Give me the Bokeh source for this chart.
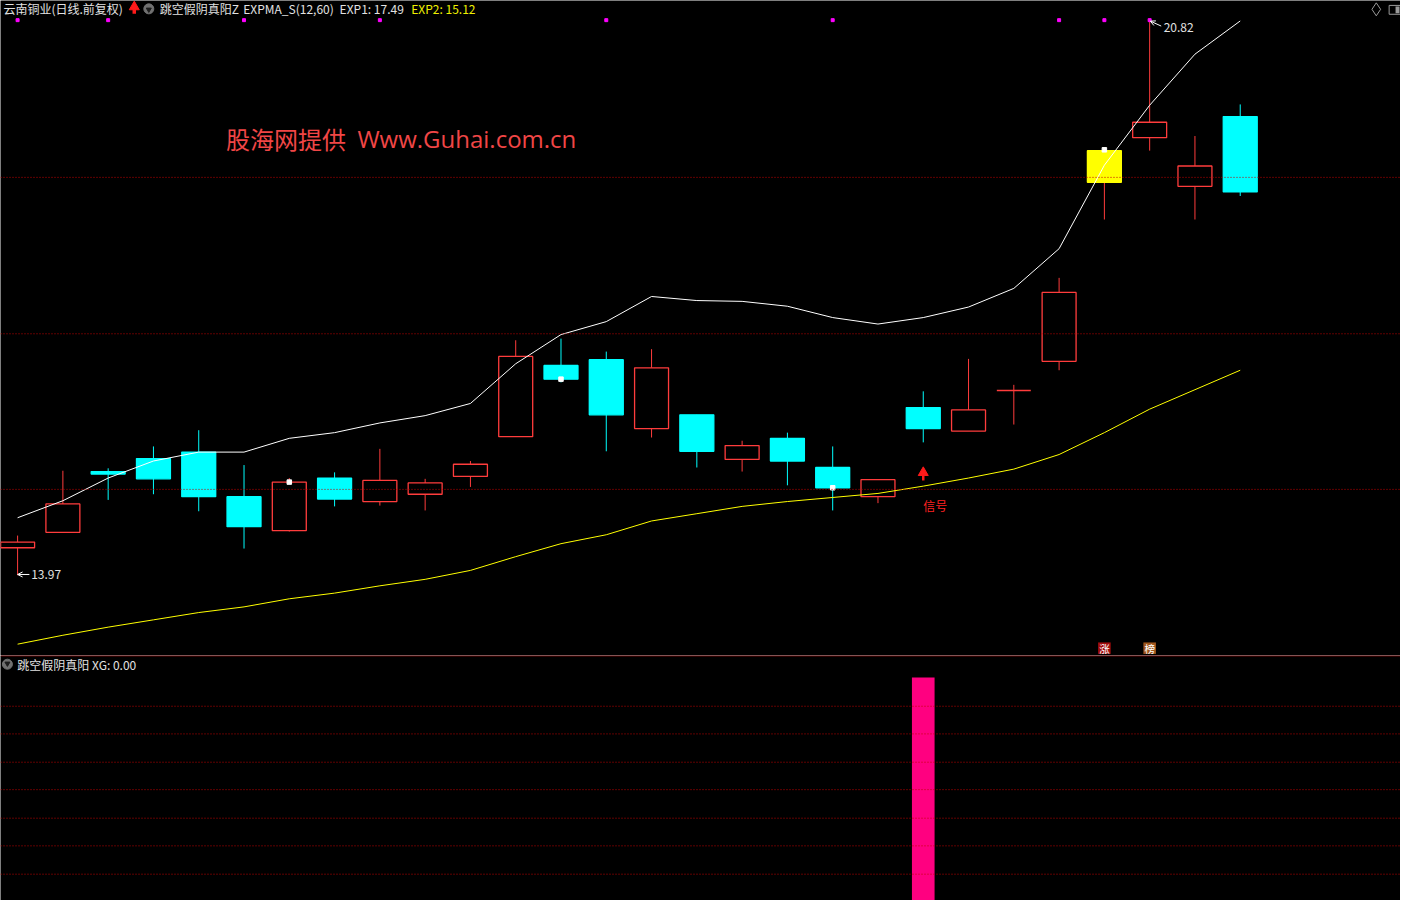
from bokeh.plotting import figure
from bokeh.layouts import column
from bokeh.models import ColumnDataSource, Range1d, Span, Arrow, OpenHead
from bokeh.core.properties import value
from bokeh.embed import file_html
from bokeh.resources import INLINE

# ---------------- data ----------------
opens  = [14.31, 14.50, 15.25, 15.41, 15.49, 14.94, 14.52, 15.17, 14.88, 14.97, 15.19, 15.68, 16.56, 16.63,
          15.78, 15.95, 15.40, 15.66, 15.30, 14.94, 16.04, 15.75, 16.25, 16.61, 19.21, 19.37, 18.77, 19.63]
closes = [14.38, 14.85, 15.22, 15.16, 14.94, 14.57, 15.12, 14.91, 15.14, 15.11, 15.34, 16.67, 16.39, 15.95,
          16.53, 15.50, 15.57, 15.38, 15.05, 15.15, 15.78, 16.01, 16.25, 17.46, 18.82, 19.56, 19.02, 18.70]
highs  = [14.46, 15.26, 15.29, 15.56, 15.76, 15.33, 15.17, 15.24, 15.53, 15.16, 15.38, 16.87, 16.89, 16.73,
          16.76, 15.95, 15.63, 15.73, 15.56, 15.15, 16.24, 16.64, 16.32, 17.64, 19.21, 20.82, 19.39, 19.78]
lows   = [13.97, 14.50, 14.90, 14.97, 14.76, 14.30, 14.51, 14.82, 14.83, 14.77, 15.06, 15.68, 16.35, 15.50,
          15.67, 15.30, 15.25, 15.08, 14.77, 14.86, 15.61, 15.75, 15.83, 16.50, 18.36, 19.21, 18.36, 18.65]
exp1   = [14.68, 14.89, 15.17, 15.38, 15.49, 15.49, 15.66, 15.73, 15.85, 15.94, 16.09, 16.58, 16.94, 17.10,
          17.41, 17.36, 17.35, 17.29, 17.15, 17.07, 17.15, 17.28, 17.51, 18.00, 19.03, 19.77, 20.40, 20.81]
exp2   = [13.12, 13.23, 13.33, 13.42, 13.51, 13.58, 13.68, 13.75, 13.84, 13.92, 14.03, 14.20, 14.36, 14.47,
          14.64, 14.73, 14.82, 14.88, 14.93, 14.98, 15.07, 15.17, 15.28, 15.46, 15.73, 16.02, 16.26, 16.50]
xg        = [0] * 20 + [1] + [0] * 7
highlight = [0] * 24 + [1] + [0] * 3
mark_idx  = [6, 12, 18, 24]
mark_val  = [15.12, 16.39, 15.05, 19.22]
top_dot_idx = [0, 2, 5, 8, 13, 18, 23, 24, 25]
grid_up   = [18.88, 16.95, 15.03]
grid_low  = [0.871, 0.747, 0.620, 0.497, 0.369, 0.245, 0.118]
badge_idx   = [24, 25]
badge_text  = ["涨", "榜"]
badge_color = ["#a20d0d", "#a0561c"]
signal_idx  = 20
exp1_hdr, exp2_hdr = "17.49", "15.12"

# ---------------- geometry helpers (reference pixels -> data) ----------------
W, H = 1400, 900
SX, SY = W / 1416, H / 916
H1 = 655
H2 = H - H1
def ix(px): return (px - 17.3) / 45.8
def pr(py): return 13.97 + (585 - py) / 82.482
def lv(py): return (916 - py) / 227

FONT = value("Noto Sans CJK SC")
RED, CYAN, YEL = "#ff3c3c", "#00ffff", "#ffff00"
TXT = "#e2e2e2"
GRID = "#c00000"

def base_fig(h, yr):
    f = figure(width=W, height=h, x_range=Range1d(ix(0), ix(1416)), y_range=yr,
               output_backend="svg", toolbar_location=None, x_axis_type=None, y_axis_type=None,
               min_border=0, background_fill_color="black", border_fill_color="black",
               outline_line_color=None)
    return f

p = base_fig(H1, Range1d(pr(H1 / SY), pr(0)))

for g in grid_up:
    p.add_layout(Span(location=g, dimension="width", line_color=GRID, line_width=1, line_dash="1 2"))

n = len(opens)
xs = list(range(n))
wc, bf, bl = [], [], []
for i in range(n):
    if highlight[i]:
        wc.append(RED); bf.append(YEL); bl.append(YEL)
    elif closes[i] >= opens[i]:
        wc.append(RED); bf.append("black"); bl.append(RED)
    else:
        wc.append(CYAN); bf.append(CYAN); bl.append(CYAN)
src = ColumnDataSource(dict(x=xs, h=highs, l=lows,
                            top=[max(o, c) for o, c in zip(opens, closes)],
                            bottom=[min(o, c) for o, c in zip(opens, closes)],
                            wc=wc, bf=bf, bl=bl))
p.segment(x0="x", y0="h", x1="x", y1="l", line_color="wc", line_width=1, source=src)
p.vbar(x="x", width=0.75, top="top", bottom="bottom", fill_color="bf", line_color="bl",
       line_width=1.3, source=src)

p.line(xs, exp1, line_color="white", line_width=1)
p.line(xs, exp2, line_color=YEL, line_width=1)

p.scatter(mark_idx, mark_val, marker="square", size=4.5, color="white")
top = max(highs)
p.scatter(top_dot_idx, [top] * len(top_dot_idx), marker="square", size=3, color="#ff00ff")

# low / high labels
lo_i = lows.index(min(lows))
hi_i = highs.index(max(highs))
p.add_layout(Arrow(end=OpenHead(size=5, line_color="white", line_width=1),
                   x_start=lo_i + 0.26, y_start=lows[lo_i] + 0.01, x_end=lo_i, y_end=lows[lo_i] + 0.01,
                   line_color="white", line_width=1))
p.text([lo_i + 0.30], [lows[lo_i] + 0.01], text=[f"{lows[lo_i]:.2f}"], text_font=FONT,
       text_font_size="12px", text_color=TXT, text_align="left", text_baseline="middle")
p.add_layout(Arrow(end=OpenHead(size=5, line_color="white", line_width=1),
                   x_start=hi_i + 0.255, y_start=highs[hi_i] - 0.073, x_end=hi_i + 0.015,
                   y_end=highs[hi_i] - 0.012, line_color="white", line_width=1))
p.text([hi_i + 0.31], [highs[hi_i] - 0.088], text=[f"{highs[hi_i]:.2f}"], text_font=FONT,
       text_font_size="12px", text_color=TXT, text_align="left", text_baseline="middle")

# signal arrow and text
p.segment([signal_idx], [pr(482)], [signal_idx], [pr(488.5)], line_color="#ff1a1a", line_width=2.5)
p.scatter([signal_idx], [pr(480.5)], marker="triangle", size=10, color="#ff1a1a")
p.text([signal_idx], [pr(513.5)], text=["信号"], text_font=FONT, text_font_size="12px",
       text_color="#ff2020", text_align="left", text_baseline="middle")

# badges
p.rect(badge_idx, [pr(659.2)] * 2, width=12.7 / 45.8, height=11.7 / 82.482,
       fill_color=badge_color, line_color=None)
p.text(badge_idx, [pr(659.5)] * 2, text=badge_text, text_font=FONT, text_font_size="10.5px",
       text_color="white", text_align="center", text_baseline="middle")

# watermark (two parts so that the wide gap is kept)
p.text([ix(228)], [pr(140)], text=["股海网提供"], text_font=FONT,
       text_font_size="24px", text_color="#f04646", text_align="left", text_baseline="middle")
p.text([ix(361)], [pr(140)], text=["Www.Guhai.com.cn"], text_font=value("Open Sans"),
       text_font_size="24px", text_color="#f04646", text_align="left", text_baseline="middle")

# header
hy = pr(8.5)
hdr = ColumnDataSource(dict(
    x=[ix(3), ix(161), ix(245.5), ix(343), ix(415.5)],
    y=[hy] * 5,
    t=["云南铜业(日线.前复权)", "跳空假阴真阳Z", "EXPMA_S(12,60)", f"EXP1: {exp1_hdr}", f"EXP2: {exp2_hdr}"],
    c=[TXT, TXT, TXT, TXT, "#f0f000"]))
p.text(x="x", y="y", text="t", text_color="c", text_font=FONT, text_font_size="12px",
       text_align="left", text_baseline="middle", source=hdr)
p.segment([ix(135.3)], [pr(8)], [ix(135.3)], [pr(13.5)], line_color="#ff1a1a", line_width=3.5)
p.scatter([ix(135.3)], [pr(6.5)], marker="triangle", size=10, color="#ff1a1a")
p.scatter([ix(150)], [pr(8.5)], marker="circle", size=10, color="#707070")
p.scatter([ix(150)], [pr(9.2)], marker="inverted_triangle", size=5, color="#1c1c1c")
p.scatter([ix(1391.5)], [pr(9)], marker="diamond", size=13, fill_color=None, line_color="#9a9a9a")
p.rect([ix(1410.5)], [pr(9.5)], width=12 / 45.8, height=9 / 82.482, fill_color=None,
       line_color="#9a9a9a", line_width=1)
p.rect([ix(1413)], [pr(9.5)], width=4 / 45.8, height=7 / 82.482, fill_color="#9a9a9a", line_color=None)

# ---------------- lower pane ----------------
q = base_fig(H2, Range1d(lv(916), lv(916 - H2 / SY)))
q.add_layout(Span(location=lv(667), dimension="width", line_color="#8b0000", line_width=1))
for g in grid_low:
    q.add_layout(Span(location=g, dimension="width", line_color=GRID, line_width=1, line_dash="1 2"))
q.vbar(x=xs, top=xg, width=0.5, bottom=0, fill_color="#ff0080", line_color=None)
q.scatter([ix(7)], [lv(675.5)], marker="circle", size=10, color="#707070")
q.scatter([ix(7)], [lv(674.8)], marker="inverted_triangle", size=5, color="#1c1c1c")
q.text([ix(17)], [lv(675.5)], text=[f"跳空假阴真阳 XG: {xg[-1]:.2f}"], text_font=FONT,
       text_font_size="12px", text_color=TXT, text_align="left", text_baseline="middle")

layout = column(p, q, spacing=0)
open("out.html", "w").write(file_html(layout, INLINE))
